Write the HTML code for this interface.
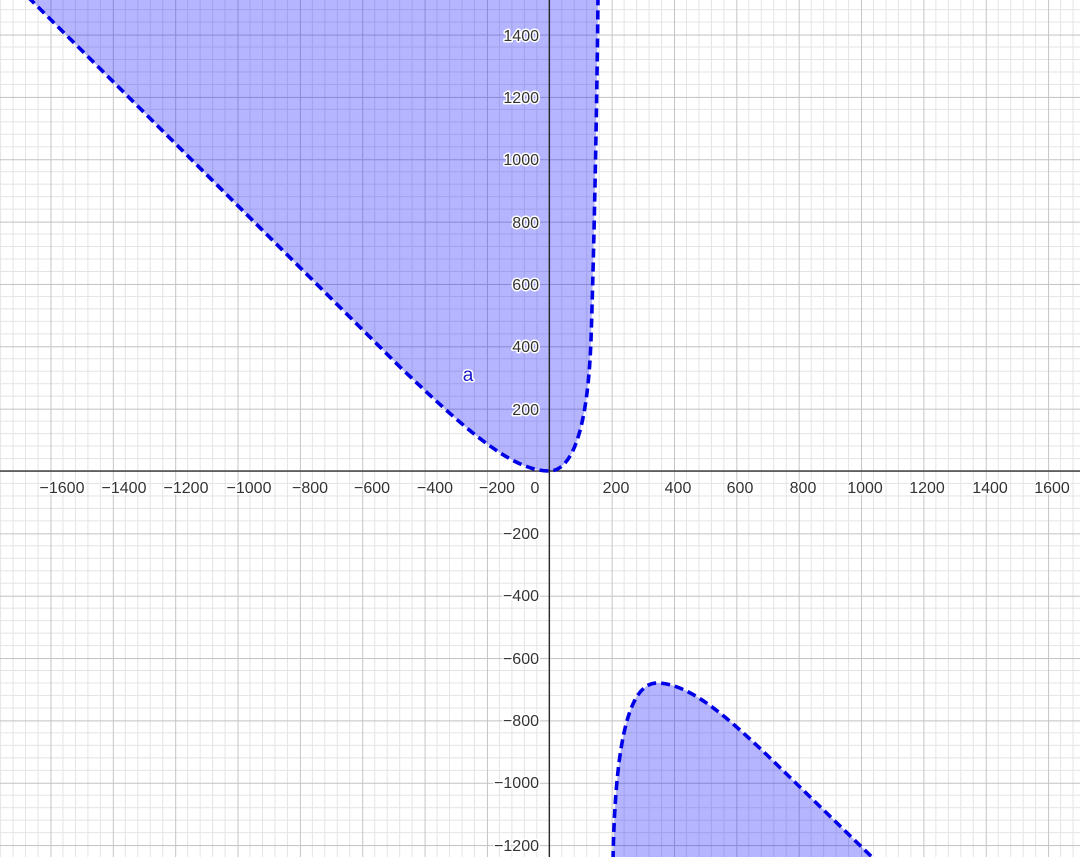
<!DOCTYPE html>
<html><head><meta charset="utf-8"><style>
html,body{margin:0;padding:0;background:#fff;}
svg{display:block;}
text{font-family:"Liberation Sans",sans-serif;font-size:16px;fill:#333;paint-order:stroke;stroke:#fff;stroke-width:3px;stroke-linejoin:round;}
</style></head><body>
<svg width="1080" height="857" viewBox="0 0 1080 857" xmlns="http://www.w3.org/2000/svg">
<defs>
<pattern id="g" patternUnits="userSpaceOnUse" x="549.3" y="471" width="62.35" height="62.35">
<g stroke="#e4e4e4" stroke-width="1">
<line x1="12.47" y1="0" x2="12.47" y2="62.35"/><line x1="24.94" y1="0" x2="24.94" y2="62.35"/>
<line x1="37.41" y1="0" x2="37.41" y2="62.35"/><line x1="49.88" y1="0" x2="49.88" y2="62.35"/>
<line y1="12.47" x1="0" y2="12.47" x2="62.35"/><line y1="24.94" x1="0" y2="24.94" x2="62.35"/>
<line y1="37.41" x1="0" y2="37.41" x2="62.35"/><line y1="49.88" x1="0" y2="49.88" x2="62.35"/>
</g>
<g stroke="#c2c2c2" stroke-width="1.3">
<line x1="0.3" y1="0" x2="0.3" y2="62.35"/><line y1="0.3" x1="0" y2="0.3" x2="62.35"/>
</g>
</pattern>
</defs>
<rect width="1080" height="857" fill="url(#g)"/>
<path fill="rgba(0,0,255,0.29)" d="M28,-3 L400,367 C460,424 510,471 549,471 C575,471 588,420 591,340 C594,250 597,100 598,-3 Z"/>
<path fill="rgba(0,0,255,0.29)" d="M613,860 C615,760 625,683 657,683 C690,683 730,720 767,755 L875,860 Z"/>
<line x1="0" y1="471" x2="1080" y2="471" stroke="#222" stroke-width="1.3"/>
<line x1="549.3" y1="0" x2="549.3" y2="857" stroke="#222" stroke-width="1.3"/>
<g fill="none" stroke="#0000e6" stroke-width="3.6" stroke-dasharray="9 5">
<path d="M28,-3 L400,367 C460,424 510,471 549,471 C575,471 588,420 591,340 C594,250 597,100 598,-3"/>
<path d="M613,860 C615,760 625,683 657,683 C690,683 730,720 767,755 L875,860"/>
</g>
<text x="468" y="381" text-anchor="middle" style="font-size:19px;fill:#1a1acc;">a</text>
<g text-anchor="middle">
<text x="62" y="493">−1600</text><text x="124" y="493">−1400</text><text x="186" y="493">−1200</text>
<text x="249" y="493">−1000</text><text x="310" y="493">−800</text><text x="372" y="493">−600</text>
<text x="435" y="493">−400</text><text x="497" y="493">−200</text><text x="535" y="493">0</text>
<text x="616" y="493">200</text><text x="678" y="493">400</text><text x="740" y="493">600</text>
<text x="803" y="493">800</text><text x="865" y="493">1000</text><text x="927" y="493">1200</text>
<text x="990" y="493">1400</text><text x="1052" y="493">1600</text>
</g>
<g text-anchor="end">
<text x="539" y="41">1400</text><text x="539" y="103">1200</text><text x="539" y="165">1000</text>
<text x="539" y="228">800</text><text x="539" y="290">600</text><text x="539" y="352">400</text>
<text x="539" y="415">200</text>
<text x="539" y="539">−200</text><text x="539" y="601">−400</text><text x="539" y="664">−600</text>
<text x="539" y="726">−800</text><text x="539" y="788">−1000</text><text x="539" y="851">−1200</text>
</g>
</svg>
</body></html>
